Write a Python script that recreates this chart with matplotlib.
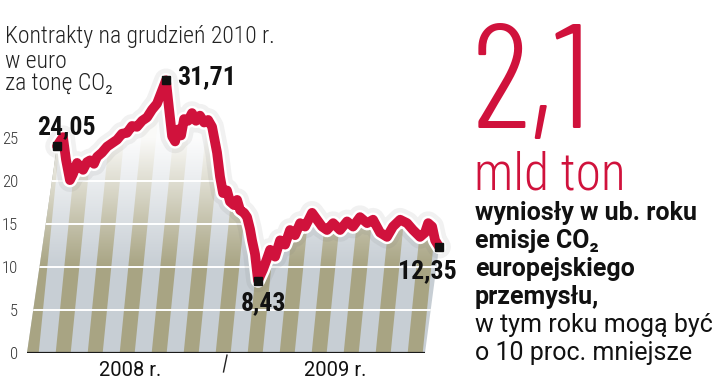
import numpy as np
import matplotlib
matplotlib.use("Agg")
import matplotlib.pyplot as plt
from matplotlib import font_manager as fm
from matplotlib.patches import Polygon
import matplotlib.patheffects as pe

# Kontrakty EUA na grudzień 2010, euro za tonę CO2
# x = miesiące od początku 2008 r.
months = [1.81, 1.99, 2.17, 2.35, 2.59, 2.77, 3.02, 3.20, 3.38, 3.62, 3.80, 4.04,
          4.22, 4.52, 4.83, 5.13, 5.43, 5.73, 6.03, 6.33, 6.63, 6.94, 7.24, 7.54,
          7.84, 8.08, 8.38, 8.56, 8.75, 8.93, 9.11, 9.29, 9.47, 9.71, 9.95, 10.19,
          10.43, 10.68, 10.92, 11.16, 11.34, 11.46, 11.64, 11.82, 12.06, 12.24, 12.48,
          12.67, 12.85, 13.09, 13.27, 13.45, 13.57, 13.75, 13.93, 14.23, 14.48, 14.66,
          14.96, 15.26, 15.56, 15.86, 16.16, 16.47, 16.77, 17.01, 17.19, 17.49, 17.79,
          18.09, 18.46, 18.88, 19.30, 19.66, 20.08, 20.51, 20.87, 21.29, 21.71, 22.07,
          22.50, 22.92, 23.28, 23.70, 24.00, 24.19, 24.43, 24.61, 24.85]
prices = [24.05, 24.6, 25.1, 22.5, 20.1, 20.8, 22.1, 21.6, 21.3, 22.2, 22.4, 22.0,
          22.8, 23.3, 24.0, 24.4, 24.8, 25.5, 25.6, 26.4, 26.3, 27.0, 27.4, 28.3,
          29.0, 30.2, 31.71, 28.5, 25.2, 24.6, 26.0, 25.3, 27.2, 27.0, 27.9, 27.0,
          27.6, 26.8, 27.1, 26.3, 24.5, 23.3, 20.5, 18.6, 18.9, 17.6, 17.2,
          17.8, 16.6, 16.3, 15.8, 14.4, 13.1, 11.5, 8.43, 9.7, 11.0, 12.0,
          11.2, 13.1, 12.6, 14.3, 13.7, 15.1, 14.7, 15.6, 16.3, 15.5, 14.7,
          14.3, 15.1, 14.3, 15.3, 14.7, 15.8, 15.1, 15.5, 14.0, 13.5, 14.7,
          15.5, 15.1, 14.3, 13.5, 14.0, 15.1, 14.7, 13.1, 12.35]
marked_labels = ["24,05", "31,71", "8,43", "12,35"]
label_offsets_px = [(9, 19), (41, 3), (5, -23), (-12, -24)]
yticks = [0, 5, 10, 15, 20, 25]
year_labels = ["2008 r.", "2009 r."]
year_centers = [6.2, 18.6]

W, H = 720, 382
installed = {f.name for f in fm.fontManager.ttflist}


def pick(*names):
    for n in names:
        if n in installed:
            return [n, "DejaVu Sans"]
    return ["DejaVu Sans"]


cond = pick("Roboto Condensed", "Liberation Sans Narrow")
thin = pick("Barlow Condensed", "Roboto Condensed", "Liberation Sans Narrow")
body = pick("Roboto", "Liberation Sans")

RED = "#d0123c"
KHAKI = "#a8a483"
GREYBLUE = "#c7ced4"

fig = plt.figure(figsize=(W / 100, H / 100), dpi=100)
fig.patch.set_facecolor("white")

px_month = (425 - 27) / 24
px_unit = 8.6
ax_l, ax_r, ax_b, ax_t = 27, 460, 353, 60
xmax = (ax_r - ax_l) / px_month
ymax = (ax_b - ax_t) / px_unit
ax = fig.add_axes([ax_l / W, 1 - ax_b / H, (ax_r - ax_l) / W, (ax_b - ax_t) / H])
for s in ax.spines.values():
    s.set_visible(False)
ax.set_xticks([])
ax.set_yticks(yticks)
ax.set_yticklabels([str(t) for t in yticks], family=cond, fontweight="light",
                   fontsize=12, color="#333333")
ax.tick_params(axis="y", length=0, pad=6.5)
ax.patch.set_alpha(0)

# area under the line
verts = list(zip(months, prices)) + [(24.0, 0), (0, 0)]
area = Polygon(verts, closed=True, facecolor=GREYBLUE, edgecolor="none", zorder=1)
ax.add_patch(area)

period = 32 / px_month
stripe_w = 15 / px_month
lean = 0.1 * px_unit / px_month  # horizontal shift per unit of y
ytop = 34
for k in range(-4, 30):
    x0 = k * period - 0.2
    stripe = Polygon([(x0, 0), (x0 + stripe_w, 0),
                      (x0 + stripe_w + lean * ytop, ytop), (x0 + lean * ytop, ytop)],
                     closed=True, facecolor=KHAKI, edgecolor="none", zorder=1.1)
    ax.add_patch(stripe)
    stripe.set_clip_path(area)

# fade to white towards the top
yy = np.linspace(0, ymax, 200)
alpha = np.clip((yy - 10) / 15, 0, 1) * 0.95
grad = np.ones((200, 2, 4))
grad[..., 3] = alpha[:, None]
im = ax.imshow(grad, extent=(0, xmax, 0, ymax), origin="lower", aspect="auto",
               zorder=1.2, interpolation="bilinear")
im.set_clip_path(area)

for g in [5, 10, 15, 20]:
    gl = ax.axhline(g, color="white", lw=1.4, zorder=1.3)
    gl.set_clip_path(area)

ax.set_xlim(0, xmax)
ax.set_ylim(0, ymax)

ax.plot([0, 24], [0, 0], color="#1a1a1a", lw=1.6, zorder=2, solid_capstyle="butt")
ax.plot([12.06, 11.85], [-0.25, -2.2], color="#222222", lw=1.0, clip_on=False)

for lab, xc in zip(year_labels, year_centers):
    ax.text(xc, -2.0, lab, ha="center", va="center", family=body, fontsize=14.5,
            color="#111111")

# soft shadow, then the line with a white outline
ax.plot(months, prices, color="#777777", lw=17, alpha=0.1, zorder=2.5,
        solid_joinstyle="round", solid_capstyle="round")
ax.plot(months, prices, color=RED, lw=7, zorder=3, solid_joinstyle="round",
        solid_capstyle="round",
        path_effects=[pe.Stroke(linewidth=10.5, foreground="white"), pe.Normal()])

marked = [0, int(np.argmax(prices)), int(np.argmin(prices)), len(prices) - 1]
mx = [months[i] for i in marked]
my = [prices[i] for i in marked]
ax.plot(mx, my, "s", color="#111111", ms=6, zorder=4, clip_on=False)
for x, y, lab, (dx, dy) in zip(mx, my, marked_labels, label_offsets_px):
    ax.annotate(lab, (x, y), xytext=(dx * 0.72, dy * 0.72), textcoords="offset points",
                ha="center", va="center", family=cond, fontweight="bold",
                fontsize=18.5, color="#111111", zorder=5, annotation_clip=False)


def ftext(x, y, s, **kw):
    fig.text(x / W, 1 - y / H, s, va="baseline", ha="left", **kw)


for s, yb in zip(["Kontrakty na grudzień 2010 r.", "w euro", "za tonę CO₂"], [43, 68, 90]):
    ftext(5, yb, s, family=cond, fontweight="light", fontsize=17, color="#222222")

ftext(472, 128, "2,1", family=thin, fontweight=300, fontsize=106, color=RED)
ftext(474, 190, "mld ton", family=cond, fontweight="light", fontsize=37, color=RED)

bold_lines = ["wyniosły w ub. roku", "emisje CO₂", "europejskiego", "przemysłu,"]
plain_lines = ["w tym roku mogą być", "o 10 proc. mniejsze"]
for i, s in enumerate(bold_lines + plain_lines):
    ftext(475, 220 + 28 * i, s, family=body,
          fontweight="bold" if i < len(bold_lines) else "normal",
          fontsize=18, color="#111111")

fig.savefig("out.png", dpi=100)
